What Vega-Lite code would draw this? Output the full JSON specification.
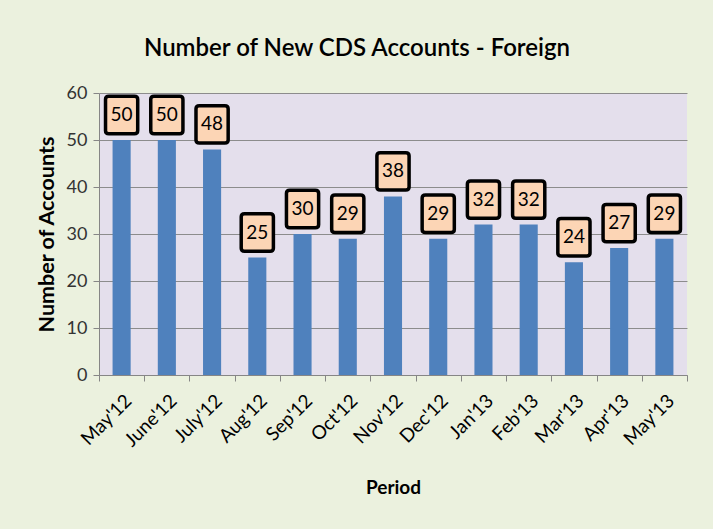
{
  "$schema": "https://vega.github.io/schema/vega-lite/v6.json",
  "width": 588,
  "height": 282,
  "autosize": "none",
  "padding": {"left": 99, "top": 93, "right": 26, "bottom": 154},
  "background": "#EBF1DE",
  "config": {
    "view": {"fill": "#E4DFEC", "stroke": null},
    "font": "Lato",
    "axis": {"labelFont": "Lato", "titleFont": "Lato"}
  },
  "title": {
    "text": "Number of New CDS Accounts - Foreign",
    "font": "Lato",
    "fontSize": 24,
    "fontWeight": 600,
    "color": "#000000",
    "dx": -36,
    "offset": 4,
    "baseline": "alphabetic"
  },
  "data": {
    "values": [
      {"period": "May'12", "accounts": 50},
      {"period": "June'12", "accounts": 50},
      {"period": "July'12", "accounts": 48},
      {"period": "Aug'12", "accounts": 25},
      {"period": "Sep'12", "accounts": 30},
      {"period": "Oct'12", "accounts": 29},
      {"period": "Nov'12", "accounts": 38},
      {"period": "Dec'12", "accounts": 29},
      {"period": "Jan'13", "accounts": 32},
      {"period": "Feb'13", "accounts": 32},
      {"period": "Mar'13", "accounts": 24},
      {"period": "Apr'13", "accounts": 27},
      {"period": "May'13", "accounts": 29}
    ]
  },
  "encoding": {
    "x": {
      "field": "period",
      "type": "ordinal",
      "sort": null,
      "scale": {"paddingInner": 0, "paddingOuter": 0},
      "axis": {
        "title": "Period",
        "titleFontSize": 19,
        "titleFontWeight": "bold",
        "titleColor": "#000000",
        "titlePadding": 28,
        "labelAngle": -45,
        "labelAlign": "right",
        "labelBaseline": "top",
        "labelFontSize": 19,
        "labelColor": "#000000",
        "labelPadding": 10,
        "tickBand": "extent",
        "tickSize": 6,
        "tickColor": "#868686",
        "domainColor": "#868686"
      }
    },
    "y": {
      "field": "accounts",
      "type": "quantitative",
      "scale": {"domain": [0, 60], "nice": false},
      "axis": {
        "title": "Number of Accounts",
        "titleFontSize": 21.5,
        "titleFontWeight": "bold",
        "titleColor": "#000000",
        "titlePadding": 8,
        "values": [0, 10, 20, 30, 40, 50, 60],
        "labelFontSize": 18,
        "labelColor": "#333333",
        "labelPadding": 6,
        "tickSize": 6,
        "tickColor": "#868686",
        "domainColor": "#868686",
        "gridColor": "#8C8C8C",
        "gridOpacity": 1
      }
    }
  },
  "layer": [
    {"mark": {"type": "bar", "color": "#4F81BD", "width": {"band": 0.4}}},
    {
      "mark": {
        "type": "point",
        "shape": "M-0.68,-1H0.68Q0.86,-1 0.86,-0.84V0.84Q0.86,1 0.68,1H-0.68Q-0.86,1 -0.86,0.84V-0.84Q-0.86,-1 -0.68,-1Z",
        "size": 1400,
        "filled": true,
        "fill": "#FCD5B5",
        "stroke": "#000000",
        "strokeWidth": 3.5,
        "opacity": 1,
        "yOffset": -25
      }
    },
    {
      "mark": {"type": "text", "fontSize": 19, "font": "Lato", "color": "#000000", "baseline": "middle", "yOffset": -25},
      "encoding": {"text": {"field": "accounts", "type": "quantitative"}}
    }
  ]
}
